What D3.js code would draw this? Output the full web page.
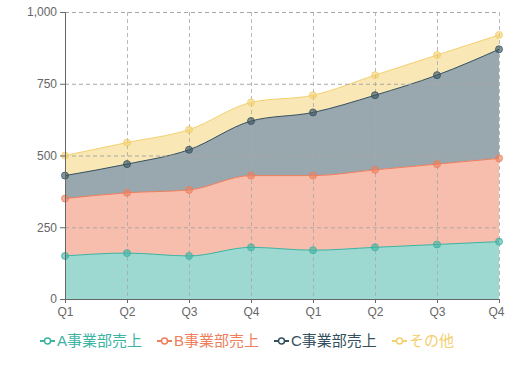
<!DOCTYPE html>
<html>
<head>
<meta charset="utf-8">
<script src="https://cdn.jsdelivr.net/npm/d3@7"></script>
<style>
  html, body { margin: 0; padding: 0; background: #fff; }
  svg { display: block; font-family: "Liberation Sans", Arial, "Noto Sans CJK JP", sans-serif; }
</style>
</head>
<body>
<div id="chart"></div>
<script>
// quarters over two years
const categories = ['Q1', 'Q2', 'Q3', 'Q4', 'Q1', 'Q2', 'Q3', 'Q4'];
const seriesNames = ['A事業部売上', 'B事業部売上', 'C事業部売上', 'その他'];
const seriesA = [150, 160, 150, 180, 170, 180, 190, 200];
const seriesB = [200, 210, 230, 250, 260, 270, 280, 290];
const seriesC = [80, 100, 140, 190, 220, 260, 310, 380];
const seriesOther = [70, 75, 70, 65, 60, 70, 70, 50];
const yTicks = [0, 250, 500, 750, 1000];
const colors = ['#3cb3a3', '#ef7e5c', '#34505e', '#f3d06e'];

const W = 505, H = 365;
const margin = { top: 12, right: 6, bottom: 66, left: 65 };
const width = W - margin.left - margin.right;
const height = H - margin.top - margin.bottom;

const svg = d3.select('#chart')
    .append('svg')
    .attr('width', W)
    .attr('height', H);

const g = svg.append('g')
    .attr('transform', `translate(${margin.left}, ${margin.top})`);

// build rows for the stack
const idx = d3.range(categories.length);
const rows = idx.map(i => ({
    i: i,
    s0: seriesA[i], s1: seriesB[i], s2: seriesC[i], s3: seriesOther[i]
}));
const stacked = d3.stack().keys(['s0', 's1', 's2', 's3'])(rows);

const x = d3.scalePoint()
    .domain(idx)
    .range([0, width]);

const y = d3.scaleLinear()
    .domain([0, 1000])
    .range([height, 0]);

const area = d3.area()
    .curve(d3.curveMonotoneX)
    .x(d => x(d.data.i))
    .y0(d => y(d[0]))
    .y1(d => y(d[1]));

const line = d3.line()
    .curve(d3.curveMonotoneX)
    .x(d => x(d.data.i))
    .y(d => y(d[1]));

// areas
g.selectAll('.area')
    .data(stacked)
    .enter().append('path')
    .attr('class', 'area')
    .attr('d', area)
    .attr('fill', (d, k) => colors[k])
    .attr('fill-opacity', 0.5);

g.selectAll('.line')
    .data(stacked)
    .enter().append('path')
    .attr('class', 'line')
    .attr('d', line)
    .attr('fill', 'none')
    .attr('stroke', (d, k) => colors[k])
    .attr('stroke-width', 1);

// grid on top of the areas
g.append('g')
    .selectAll('line')
    .data(yTicks.filter(t => t > 0))
    .enter().append('line')
    .attr('x1', 0).attr('x2', width)
    .attr('y1', d => y(d) + 0.5).attr('y2', d => y(d) + 0.5)
    .attr('stroke', '#a8a8a8')
    .attr('stroke-dasharray', '4,3');

g.append('g')
    .selectAll('line')
    .data(idx.slice(1))
    .enter().append('line')
    .attr('x1', d => x(d) + 0.5).attr('x2', d => x(d) + 0.5)
    .attr('y1', 0).attr('y2', height)
    .attr('stroke', '#a8a8a8')
    .attr('stroke-opacity', 0.8)
    .attr('stroke-dasharray', '4,3');

// points
stacked.forEach((s, k) => {
    g.append('g')
        .selectAll('circle')
        .data(s)
        .enter().append('circle')
        .attr('cx', d => x(d.data.i))
        .attr('cy', d => y(d[1]))
        .attr('r', 3.5)
        .attr('fill', colors[k])
        .attr('fill-opacity', 0.6)
        .attr('stroke', colors[k])
        .attr('stroke-opacity', 0.8)
        .attr('stroke-width', 1);
});

// axes
const yAxis = g.append('g')
    .attr('class', 'y-axis')
    .call(d3.axisLeft(y).tickValues(yTicks).tickSize(5).tickPadding(3)
        .tickFormat(d3.format(',')));

const xAxis = g.append('g')
    .attr('class', 'x-axis')
    .attr('transform', `translate(0, ${height})`)
    .call(d3.axisBottom(x).tickSize(4).tickPadding(4)
        .tickFormat(i => categories[i]));

[yAxis, xAxis].forEach(a => {
    a.select('.domain').attr('stroke', '#666');
    a.selectAll('.tick line').attr('stroke', '#666');
    a.selectAll('.tick text')
        .attr('fill', '#666')
        .style('font-size', '12px')
        .style('font-family', '"Liberation Sans", Arial, sans-serif');
});

// keep the last label inside the picture
xAxis.selectAll('.tick text')
    .filter(i => i === idx.length - 1)
    .attr('dx', -3);

// legend
const legend = svg.append('g')
    .attr('transform', `translate(0, ${H - 24})`);

const legendX = [40, 157, 274, 392];
seriesNames.forEach((name, k) => {
    const item = legend.append('g')
        .attr('transform', `translate(${legendX[k]}, 0)`);
    item.append('line')
        .attr('x1', 0).attr('x2', 15)
        .attr('y1', 0).attr('y2', 0)
        .attr('stroke', colors[k])
        .attr('stroke-width', 2);
    item.append('circle')
        .attr('cx', 7.5).attr('cy', 0)
        .attr('r', 3)
        .attr('fill', '#fff')
        .attr('stroke', colors[k])
        .attr('stroke-width', 1.5);
    item.append('text')
        .attr('x', 17)
        .attr('y', 0)
        .attr('dy', '0.36em')
        .attr('fill', colors[k])
        .style('font-size', '15px')
        .style('font-family', '"Liberation Sans", Arial, "Noto Sans CJK JP", sans-serif')
        .text(name);
});
</script>
</body>
</html>
